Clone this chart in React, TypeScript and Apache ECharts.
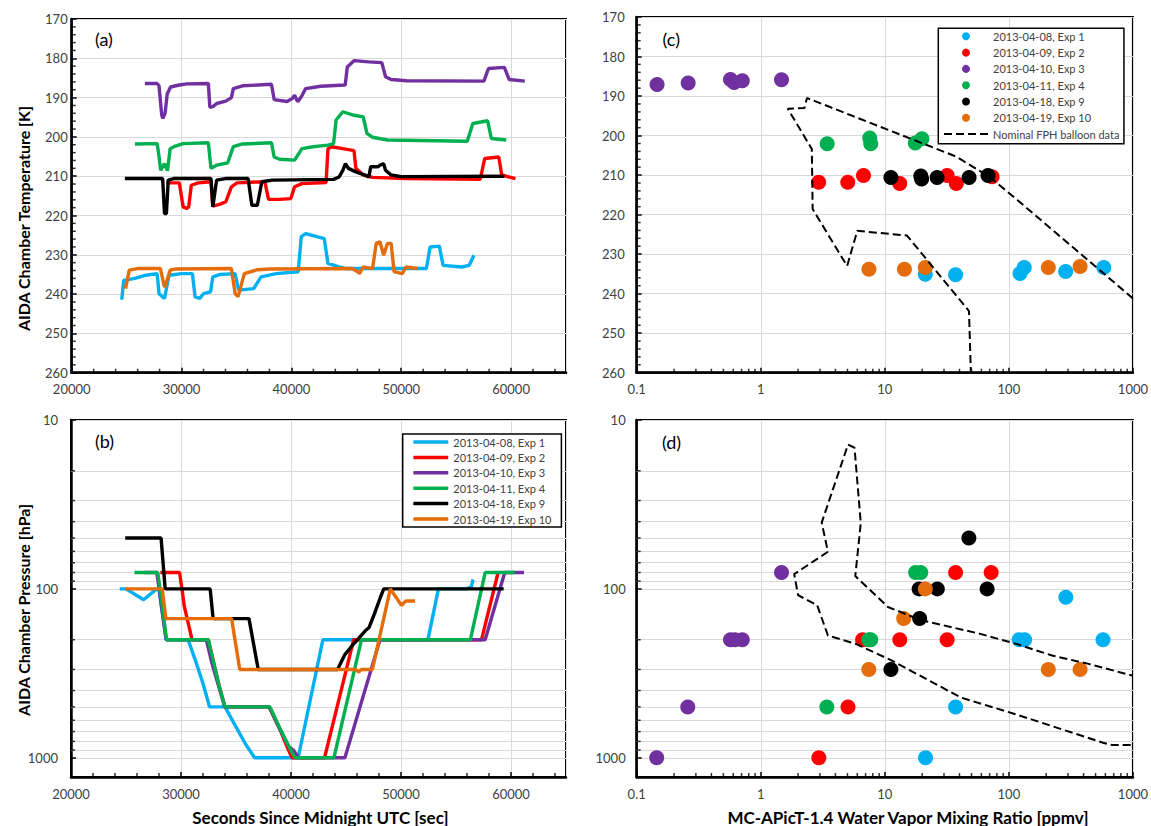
import React, { useEffect, useRef } from "react";
import * as echarts from "echarts";

const FONT = "Lato, 'Open Sans', 'DejaVu Sans', sans-serif";
const LABEL = "#404040";
const GRIDC = "#D9D9D9";

const expNames = [
  "2013-04-08, Exp 1",
  "2013-04-09, Exp 2",
  "2013-04-10, Exp 3",
  "2013-04-11, Exp 4",
  "2013-04-18, Exp 9",
  "2013-04-19, Exp 10",
];
const expColors = ["#00B0F0", "#FF0000", "#7030A0", "#00B050", "#000000", "#E46C0A"];
const balloonName = "Nominal FPH balloon data";

// ---------- Panel (a): chamber temperature [K] vs seconds ----------
const tempExp1 = [[24560,241.4],[24730,236.5],[25750,236],[26760,235.2],[27780,234.8],[27950,239.9],[28450,241.1],[28860,235.2],[30000,234.8],[30990,234.8],[31230,240.7],[31660,241.1],[32000,239.9],[32640,239.4],[32850,235.6],[33520,235],[34870,234.8],[35200,239],[36570,238.6],[37240,235.6],[38600,234.8],[40620,234.3],[40900,225.4],[41300,224.6],[42320,225.4],[42990,225.9],[43330,232.2],[44340,233.1],[45000,233.5],[52290,233.5],[52630,228],[53470,227.8],[53810,232.7],[55500,233.1],[56180,232.7],[56620,230.1]];
const tempExp2 = [[28620,211.7],[29800,211.7],[30140,217.8],[30480,218.2],[30650,217.8],[30890,212.3],[31500,211.7],[32680,211.4],[32850,217.6],[33520,217.1],[34030,216.5],[34540,212.7],[35050,211.7],[37580,211.4],[37920,215.9],[38930,215.9],[39950,215.7],[40290,212.7],[40960,211.9],[43160,211.6],[43330,203],[43670,202.5],[44680,203],[45700,203.5],[45870,208],[46540,209.7],[47390,210.3],[50430,210.6],[57190,210.8],[57600,205.5],[58880,205.1],[59150,209.7],[60400,210.6]];
const tempExp3 = [[26660,186.4],[27780,186.4],[27950,187],[28200,194.5],[28300,195.3],[28500,194],[28700,189],[29000,187.3],[29800,186.8],[30500,186.5],[32440,186.4],[32580,192.5],[32850,192.3],[33200,191.5],[34030,190.9],[34540,190],[34710,187.7],[35550,187],[38190,186.6],[38430,190.5],[39600,191],[40100,190.2],[40290,189.4],[40560,191],[40700,190.6],[40960,189.5],[41300,187.7],[42650,187.1],[44900,186.8],[45090,182.2],[45700,180.6],[47050,180.9],[48230,181.1],[48570,184.7],[49080,185.4],[50500,185.7],[57530,185.8],[57940,182.6],[59390,182.3],[59830,185.4],[61250,185.8]];
const tempExp4 = [[25750,201.8],[27780,201.7],[27950,205],[28100,208.5],[28450,206.8],[28720,208.6],[28960,203],[29300,202.5],[30140,201.7],[32440,201.5],[32680,208],[33190,207.2],[34200,206.6],[34710,202.5],[35550,201.8],[38190,201.5],[38430,205.1],[38930,205.7],[40290,205.9],[40960,203],[41980,202.5],[43330,202.1],[43840,201.7],[44070,195.7],[44680,193.6],[45700,194.5],[46540,194.9],[46880,199.1],[47390,200.1],[48740,200.8],[56010,201.1],[56520,196.6],[57870,195.9],[58200,200.4],[59560,200.8]];
const tempExp9 = [[24840,210.6],[28280,210.6],[28450,219.5],[28620,219.5],[28790,211],[29300,210.6],[32680,210.6],[32850,217.8],[33190,211],[34000,210.6],[36060,210.6],[36400,217.4],[36900,217.4],[37310,211.4],[38260,211],[43840,210.8],[44340,210.2],[44680,208.5],[44920,206.8],[45190,208],[45870,208.9],[46710,209.7],[47050,210.2],[47220,207.6],[47890,207.6],[48060,207.2],[48400,206.8],[48570,208.5],[49080,209.7],[50000,210.1],[59390,210]];
const tempExp10 = [[24900,238.6],[25240,233.9],[26000,233.5],[28070,233.5],[28450,238.2],[28620,237],[28960,233.9],[29500,233.6],[34540,233.5],[34880,239.9],[35150,240.6],[35720,234.8],[36900,233.8],[38000,233.6],[45530,233.5],[46030,234.3],[46200,234.8],[46540,233.1],[47390,233.5],[47720,227.1],[48060,226.7],[48400,230.1],[48740,227.1],[49080,227.1],[49350,234.3],[50090,234.8],[50430,233.1],[51440,233.5]];

// ---------- Panel (b): chamber pressure [hPa] vs seconds ----------
const presExp1 = [[24430,100],[25000,100],[26600,116],[27800,100],[28000,100],[28650,200],[30650,200],[31300,264],[32000,363],[32600,500],[34000,500],[35000,657],[35850,826],[36700,1000],[40650,1000],[42900,200],[52450,200],[53400,100],[55980,100],[56400,97],[56550,88]];
const presExp2 = [[28120,80],[29870,80],[30140,106],[30300,127],[30800,175],[31000,200],[32480,200],[32990,277],[33490,380],[33990,500],[38020,500],[39000,680],[39700,880],[40100,1000],[43050,1000],[45700,200],[57320,200],[58830,80]];
const presExp3 = [[26660,80],[27800,80],[28650,200],[32300,200],[32820,277],[33490,390],[33990,500],[38020,500],[39000,680],[39800,860],[40200,900],[40700,1000],[44900,1000],[48090,200],[57650,200],[59430,80],[61180,80]];
const presExp4 = [[25770,80],[27890,80],[28690,200],[32480,200],[32990,277],[33490,380],[33990,500],[38090,500],[39000,670],[39900,880],[40370,1000],[43900,1000],[46410,200],[56310,200],[57650,80],[60340,80]];
const presExp9 = [[24930,50],[28190,50],[28560,100],[32650,100],[32920,150],[36180,150],[37020,300],[44230,300],[44900,245],[45740,210],[46750,177],[47080,170],[47590,140],[48090,114],[48430,100],[59330,100]];
const presExp10 = [[24930,100],[28290,100],[28630,150],[34600,150],[35340,300],[45900,300],[46150,310],[46400,300],[47400,300],[49030,100],[50040,125],[50440,118],[51280,118]];

// ---------- Panel (c): temperature [K] vs water vapour [ppmv] ----------
const tpExp1 = [[21.2,235.1],[37.2,235.2],[123,234.9],[133,233.4],[287,234.4],[582,233.4]];
const tpExp2 = [[2.93,211.8],[5.03,211.8],[6.73,210.1],[13.2,212.1],[31.8,210.1],[37.7,212.1],[73.2,210.4]];
const tpExp3 = [[0.146,187.1],[0.26,186.7],[0.57,185.8],[0.61,186.6],[0.71,186.1],[1.47,185.9]];
const tpExp4 = [[3.43,202.1],[7.56,200.6],[7.7,202.1],[17.6,201.9],[19.9,200.8]];
const tpExp9 = [[11.2,210.6],[19.5,210.2],[19.8,211],[26.4,210.6],[47.8,210.6],[67.9,210.1]];
const tpExp10 = [[7.45,233.8],[14.4,233.8],[21.2,233.4],[208,233.4],[375,233.1]];
const balloonTP = [[1000,241.2],[117,216.3],[69.5,210.4],[37.5,205.3],[2.36,190.5],[2.25,193.0],[1.65,193.2],[2.58,203.4],[2.62,218.6],[4.97,233.0],[6.0,224.1],[15.1,225.3],[47.7,244.4],[49.4,260]];

// ---------- Panel (d): pressure [hPa] vs water vapour [ppmv] ----------
const ppExp1 = [[288,112],[121,200],[134,200],[574,200],[37.2,500],[21.3,1000]];
const ppExp2 = [[2.94,1000],[5.05,500],[6.62,200],[13.2,200],[31.8,200],[37.2,80],[72,80]];
const ppExp3 = [[0.145,1000],[0.258,500],[0.57,200],[0.62,200],[0.71,200],[1.47,80]];
const ppExp4 = [[3.41,500],[7.43,200],[7.7,200],[17.7,80],[19.5,80]];
const ppExp9 = [[47.6,50],[18.9,100],[26.5,100],[66.8,100],[19.1,150],[11.2,300]];
const ppExp10 = [[21.2,100],[14.2,150],[7.43,300],[208,300],[375,300]];
const balloonPP = [[960,841],[679,841],[574,815],[113,552],[41.1,440],[11.4,266],[5.78,211],[3.48,189],[2.85,125],[2.0,109],[1.86,81.8],[3.48,60.3],[3.1,40.5],[5.05,14.0],[5.7,14.6],[6.4,40.8],[5.78,84],[10.6,128],[19.5,153],[57.7,184],[113,211],[223,248],[438,278],[1000,327]];

const tempSeries = [tempExp1, tempExp2, tempExp3, tempExp4, tempExp9, tempExp10];
const presSeries = [presExp1, presExp2, presExp3, presExp4, presExp9, presExp10];
const tpSeries = [tpExp1, tpExp2, tpExp3, tpExp4, tpExp9, tpExp10];
const ppSeries = [ppExp1, ppExp2, ppExp3, ppExp4, ppExp9, ppExp10];

// minor tick positions (axis decoration)
const timeMinor: number[] = [];
for (let t = 22000; t < 65000; t += 2000) if (t % 10000 !== 0) timeMinor.push(t);
const tempMinor: number[] = [];
for (let k = 172; k < 260; k += 2) if (k % 10 !== 0) tempMinor.push(k);
const logMinorX: number[] = [];
for (let e = -1; e <= 2; e++) for (let m = 2; m <= 9; m++) logMinorX.push(Number((m * Math.pow(10, e)).toPrecision(3)));
const logMinorY: number[] = [];
for (let e = 1; e <= 2; e++) for (let m = 2; m <= 9; m++) logMinorY.push(m * Math.pow(10, e));

// small tick marks drawn as rect symbols on the axis edge
function xTicks(idx: number, values: number[], bottomVal: number) {
  return {
    type: "scatter", xAxisIndex: idx, yAxisIndex: idx, silent: true, clip: false, z: 6,
    symbol: "rect", symbolSize: [1.5, 4], symbolOffset: [0, -2],
    itemStyle: { color: "#000" }, emphasis: { disabled: true },
    data: values.map((v) => [v, bottomVal]),
  };
}
function yTicks(idx: number, values: number[], leftVal: number) {
  return {
    type: "scatter", xAxisIndex: idx, yAxisIndex: idx, silent: true, clip: false, z: 6,
    symbol: "rect", symbolSize: [4, 1.5], symbolOffset: [2, 0],
    itemStyle: { color: "#000" }, emphasis: { disabled: true },
    data: values.map((v) => [leftVal, v]),
  };
}
function hGrid(idx: number, values: number[], px: number, py: number) {
  return {
    type: "scatter", xAxisIndex: idx, yAxisIndex: idx, silent: true, z: 1,
    symbolSize: 0, data: [[px, py]], itemStyle: { opacity: 0 },
    markLine: {
      silent: true, symbol: "none", animation: false, z: 1, label: { show: false },
      lineStyle: { color: GRIDC, width: 1, type: "solid" }, emphasis: { disabled: true },
      data: values.map((v) => ({ yAxis: v })),
    },
  };
}

const logFmt = (v: number) => {
  const e = Math.log10(v);
  const r = Math.round(e);
  if (Math.abs(e - r) > 1e-4) return "";
  return String(Math.pow(10, r));
};
const plainFmt = (v: number) => String(v);

const axisLineStyle = { onZero: false, lineStyle: { color: "#000", width: 2.5 } };
const tickStyle = { inside: true, length: 5, lineStyle: { color: "#000", width: 1.5 } };
const splitStyle = { show: true, lineStyle: { color: GRIDC, width: 1 } };
const lbl = (margin: number, extra: any = {}) => ({ fontFamily: FONT, fontSize: 13, color: LABEL, margin, ...extra });

function timeAxis(gi: number) {
  return { type: "value", gridIndex: gi, min: 20000, max: 65000, interval: 10000, axisLine: axisLineStyle, axisTick: tickStyle, axisLabel: lbl(10, { showMaxLabel: false, formatter: plainFmt }), splitLine: splitStyle };
}
function tempAxis(gi: number, margin: number) {
  return { type: "value", gridIndex: gi, inverse: true, min: 170, max: 260, interval: 10, axisLine: axisLineStyle, axisTick: tickStyle, axisLabel: lbl(margin, { formatter: plainFmt }), splitLine: splitStyle };
}
function ppmvAxis(gi: number) {
  return { type: "log", logBase: 10, gridIndex: gi, min: 0.1, max: 1000, axisLine: axisLineStyle, axisTick: tickStyle, axisLabel: lbl(10, { formatter: logFmt }), splitLine: splitStyle };
}
function presAxis(gi: number, margin: number) {
  return { type: "log", logBase: 10, gridIndex: gi, inverse: true, min: 10, max: 1300, axisLine: axisLineStyle, axisTick: tickStyle, axisLabel: lbl(margin, { formatter: logFmt }), splitLine: splitStyle };
}

const dashIcon = "path://M0,0L8,0L8,2L0,2Z M12,0L20,0L20,2L12,2Z M24,0L32,0L32,2L24,2Z M36,0L44,0L44,2L36,2Z";

function titleText(text: string, x: number, y: number, vertical: boolean, size: number) {
  return {
    type: "text", x, y, rotation: vertical ? Math.PI / 2 : 0, silent: true,
    style: { text, fontFamily: FONT, fontSize: size, fontWeight: "bold", fill: "#000", align: "center", verticalAlign: "middle" },
  };
}
function panelText(text: string, x: number, y: number) {
  return { type: "text", x, y, silent: true, style: { text, fontFamily: FONT, fontSize: 18, fill: "#000", align: "left", verticalAlign: "middle" } };
}

export default function App() {
  const ref = useRef<HTMLDivElement>(null);
  useEffect(() => {
    if (!ref.current) return;
    const chart = echarts.init(ref.current, null, { renderer: "svg" });
    const gridBase = { show: true, borderColor: "#000", borderWidth: 2, backgroundColor: "transparent", containLabel: false };
    const series: any[] = [];
    // minor gridlines first so they sit beneath the data
    series.push(hGrid(1, logMinorY, 40000, 100));
    series.push(hGrid(3, logMinorY, 1, 100));
    tempSeries.forEach((d, i) =>
      series.push({ name: expNames[i], type: "line", xAxisIndex: 0, yAxisIndex: 0, data: d, symbol: "none", showSymbol: false, lineStyle: { width: 3.4, color: expColors[i] }, itemStyle: { color: expColors[i] }, z: 3 })
    );
    presSeries.forEach((d, i) =>
      series.push({ name: expNames[i], type: "line", xAxisIndex: 1, yAxisIndex: 1, data: d, symbol: "none", showSymbol: false, lineStyle: { width: 3.4, color: expColors[i] }, itemStyle: { color: expColors[i] }, z: 3 })
    );
    tpSeries.forEach((d, i) =>
      series.push({ name: expNames[i], type: "scatter", xAxisIndex: 2, yAxisIndex: 2, data: d, symbol: "circle", symbolSize: 15, itemStyle: { color: expColors[i], opacity: 1 }, z: 3 })
    );
    series.push({ name: balloonName, type: "line", xAxisIndex: 2, yAxisIndex: 2, data: balloonTP, symbol: "none", showSymbol: false, lineStyle: { width: 2, color: "#000", type: [8, 4] }, itemStyle: { color: "#000" }, z: 4 });
    ppSeries.forEach((d, i) =>
      series.push({ name: expNames[i], type: "scatter", xAxisIndex: 3, yAxisIndex: 3, data: d, symbol: "circle", symbolSize: 15, itemStyle: { color: expColors[i], opacity: 1 }, z: 3 })
    );
    series.push({ name: balloonName, type: "line", xAxisIndex: 3, yAxisIndex: 3, data: balloonPP, symbol: "none", showSymbol: false, lineStyle: { width: 2, color: "#000", type: [8, 4] }, itemStyle: { color: "#000" }, z: 4 });

    series.push(xTicks(0, timeMinor, 260));
    series.push(yTicks(0, tempMinor, 20000));
    series.push(xTicks(1, timeMinor, 1300));
    series.push(yTicks(1, logMinorY, 20000));
    series.push(xTicks(2, logMinorX, 260));
    series.push(yTicks(2, tempMinor, 0.1));
    series.push(xTicks(3, logMinorX, 1300));
    series.push(yTicks(3, logMinorY, 0.1));

    const legendText = { fontFamily: FONT, fontSize: 11, color: LABEL, lineHeight: 14 };

    chart.setOption({
      animation: false,
      textStyle: { fontFamily: FONT },
      grid: [
        { ...gridBase, left: 71.7, top: 19, width: 494.3, height: 353.7 },
        { ...gridBase, left: 71, top: 420, width: 495, height: 357 },
        { ...gridBase, left: 636.7, top: 17, width: 497.3, height: 355.7 },
        { ...gridBase, left: 636.7, top: 420, width: 497.3, height: 357 },
      ],
      xAxis: [timeAxis(0), timeAxis(1), ppmvAxis(2), ppmvAxis(3)],
      yAxis: [tempAxis(0, 4), presAxis(1, 13), tempAxis(2, 12), presAxis(3, 11)],
      legend: [
        {
          orient: "vertical", left: 402.7, top: 434, padding: [1, 10, 1, 10.6], itemWidth: 35, itemHeight: 3.5, itemGap: 1.4, itemTextGap: 2,
          borderColor: "#000", borderWidth: 1.5, backgroundColor: "#fff", selectedMode: false, z: 10, textStyle: legendText,
          data: expNames.map((n, i) => ({ name: n, icon: "roundRect", itemStyle: { color: expColors[i], borderWidth: 0 } })),
        },
        {
          orient: "vertical", left: 938.3, top: 28.3, padding: [1, 4.5, 2.6, 5.7], itemWidth: 44, itemHeight: 8, itemGap: 2.3, itemTextGap: 4.7,
          borderColor: "#000", borderWidth: 1.5, backgroundColor: "#fff", selectedMode: false, z: 10, textStyle: legendText,
          data: [
            ...expNames.map((n, i) => ({ name: n, icon: "circle", itemStyle: { color: expColors[i], borderWidth: 0 } })),
            { name: balloonName, icon: dashIcon, itemStyle: { color: "#000", borderWidth: 0 } },
          ],
        },
      ],
      graphic: [
        titleText("AIDA Chamber Temperature [K]", 23.5, 218.5, true, 16),
        titleText("AIDA Chamber Pressure [hPa]", 23.5, 610, true, 16),
        titleText("Seconds Since Midnight UTC [sec]", 320.5, 817, false, 17),
        titleText("MC-APicT-1.4 Water Vapor Mixing Ratio [ppmv]", 908, 817, false, 17),
        panelText("(a)", 95, 39),
        panelText("(b)", 95, 441),
        panelText("(c)", 662.6, 38.5),
        panelText("(d)", 662, 441.5),
      ],
      series,
    });
    return () => chart.dispose();
  }, []);
  return <div ref={ref} style={{ position: "fixed", left: 0, top: 0, width: 1151, height: 826, background: "#fff" }} />;
}
